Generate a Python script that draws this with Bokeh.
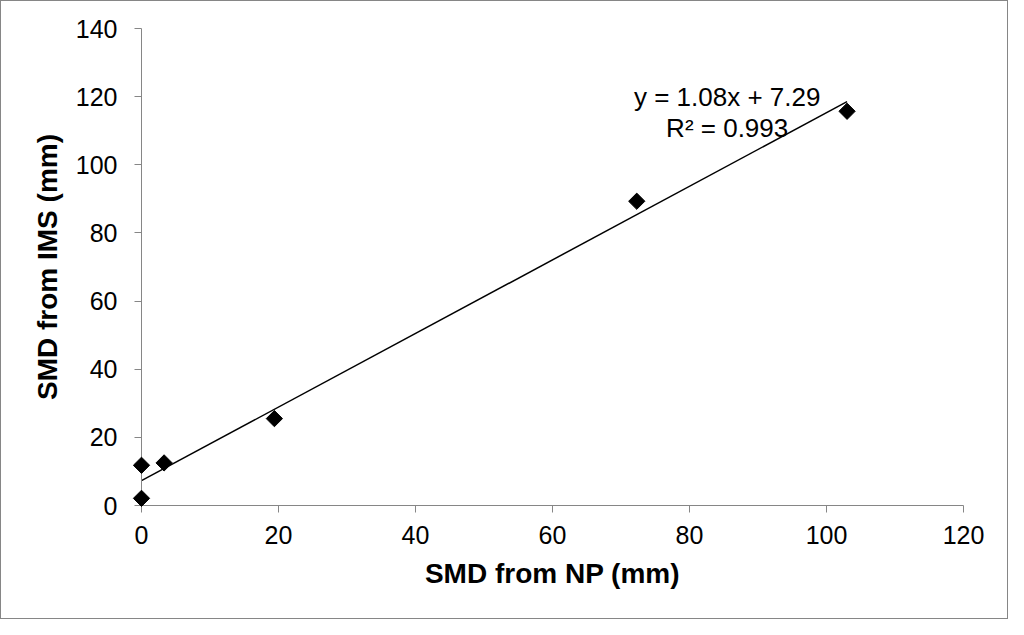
from bokeh.plotting import figure
from bokeh.models import Range1d, Label, FixedTicker, ColumnDataSource
from bokeh.embed import file_html
from bokeh.resources import INLINE
import math

# ---- data ----
x_np = [0.0, 0.0, 3.3, 19.4, 72.3, 103.0]
y_ims = [2.1, 11.8, 12.5, 25.5, 89.3, 115.7]
slope = 1.08
intercept = 7.29
r2 = 0.993
x_ticks = [0, 20, 40, 60, 80, 100, 120]
y_ticks = [0, 20, 40, 60, 80, 100, 120, 140]
x_title = "SMD from NP (mm)"
y_title = "SMD from IMS (mm)"

FONT = "Liberation Sans"
GRAY = "#868686"

p = figure(width=1008, height=619, output_backend="svg", toolbar_location=None,
           x_range=Range1d(0, 120), y_range=Range1d(0, 140),
           min_border_left=140, min_border_right=46, min_border_top=27, min_border_bottom=115)
p.grid.visible = False
p.outline_line_color = None
p.background_fill_color = "white"
p.border_fill_color = "white"
p.styles = {"border": "1px solid " + GRAY, "box-sizing": "border-box"}

for ax, ticks, sto, lsto in ((p.xaxis[0], x_ticks, 13, 11),
                             (p.yaxis[0], y_ticks, 17, 10)):
    ax.ticker = FixedTicker(ticks=ticks)
    ax.axis_line_color = GRAY
    ax.axis_line_width = 1
    ax.major_tick_line_color = GRAY
    ax.major_tick_in = 0
    ax.major_tick_out = 7
    ax.minor_tick_line_color = None
    ax.major_label_text_font = FONT
    ax.major_label_text_font_size = "25px"
    ax.major_label_text_color = "black"
    ax.major_label_standoff = sto
    ax.axis_label_text_font = FONT
    ax.axis_label_text_font_size = "28px"
    ax.axis_label_text_font_style = "bold"
    ax.axis_label_text_color = "black"
    ax.axis_label_standoff = lsto
p.xaxis[0].axis_label = x_title
p.yaxis[0].axis_label = y_title

# trendline over the data range
tx = [min(x_np), max(x_np)]
ty = [slope * v + intercept for v in tx]
p.line(tx, ty, line_color="black", line_width=1.5)

src = ColumnDataSource(dict(x=x_np, y=y_ims))
p.scatter("x", "y", source=src, marker="square", angle=math.pi / 4, size=11.5,
          fill_color="black", line_color="black", level="overlay")

eq1 = "y = %.2fx + %.2f" % (slope, intercept)
eq2 = "R² = %.3f" % r2
p.add_layout(Label(x=85.5, y=119.8, text=eq1, text_align="center", text_baseline="alphabetic",
                   text_font=FONT, text_font_size="26px", text_color="black"))
p.add_layout(Label(x=85.5, y=110.9, text=eq2, text_align="center", text_baseline="alphabetic",
                   text_font=FONT, text_font_size="26px", text_color="black"))

open("out.html", "w").write(file_html(p, INLINE))
